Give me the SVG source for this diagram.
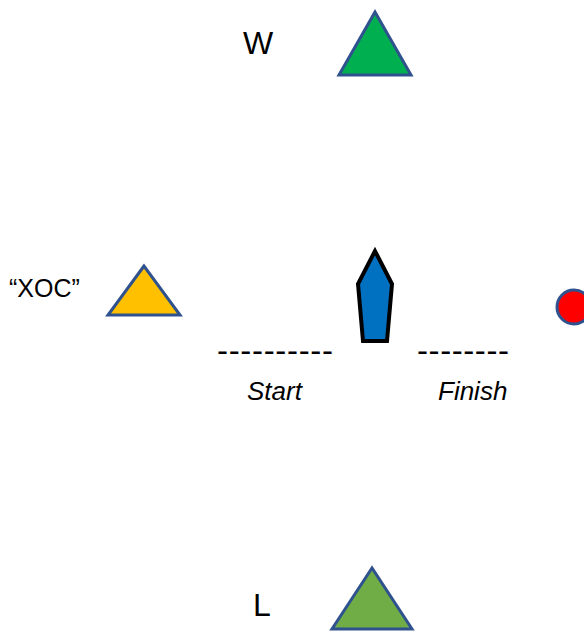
<svg xmlns="http://www.w3.org/2000/svg" width="584" height="632" viewBox="0 0 584 632">
<style>
.lbl{font-family:"Liberation Sans",Arial,sans-serif;fill:#000}
.it{font-family:"Liberation Sans",Arial,sans-serif;font-style:italic;font-size:26px;fill:#000}
.dash{font-family:"Liberation Sans",Arial,sans-serif;font-size:33px;fill:#000}
.mark{stroke:#2F528F;stroke-width:3;stroke-linejoin:miter}
</style>
<rect width="584" height="632" fill="#fff"/>
<g id="windward">
<text class="lbl" x="243" y="54" font-size="32">W</text>
<polygon class="mark" points="375,12 339,75 411,75" fill="#00B050"/>
</g>
<g id="xoc">
<text class="lbl" x="9" y="297" font-size="25">“XOC”</text>
<polygon class="mark" points="144,266 108,315 180,315" fill="#FFC000"/>
</g>
<g id="boat">
<polygon points="375,251 358,284 363,341 387,341 392,284" fill="#0070C0" stroke="#000" stroke-width="4" stroke-linejoin="miter"/>
</g>
<g id="finish-mark">
<circle cx="574" cy="307" r="17" fill="#FF0000" stroke="#2F528F" stroke-width="3"/>
</g>
<g id="start-line">
<text class="dash" x="217" y="362" textLength="116" lengthAdjust="spacing">----------</text>
<text class="it" x="247" y="400">Start</text>
</g>
<g id="finish-line">
<text class="dash" x="417" y="362" textLength="92" lengthAdjust="spacing">--------</text>
<text class="it" x="438" y="400">Finish</text>
</g>
<g id="leeward">
<text class="lbl" x="253" y="616" font-size="32">L</text>
<polygon class="mark" points="372,568 332,629 412,629" fill="#70AD47"/>
</g>
<g id="connectors"></g>
</svg>
